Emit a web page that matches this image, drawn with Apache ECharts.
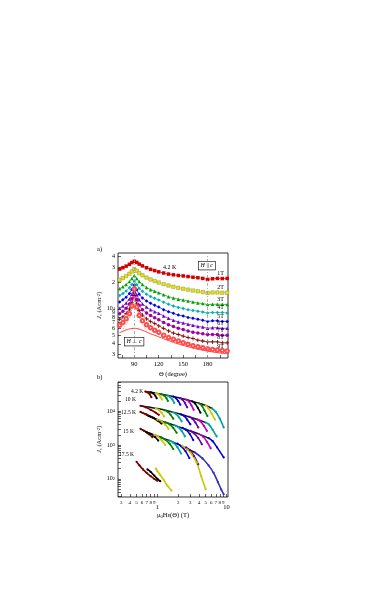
<!DOCTYPE html>
<html lang="en">
<head>
<meta charset="UTF-8">
<title>Jc angular dependence and scaling</title>
<script src="https://cdn.jsdelivr.net/npm/echarts@6.0.0/dist/echarts.min.js"></script>
</head>
<body style="margin:0;background:#fff;">
<div id="main" style="width:382px;height:599px;"></div>
<script>
// ---- panel a: Jc(theta) at 4.2 K for 1T..9T
var theta = [72, 76, 80, 84, 87, 90, 93, 96, 100, 105, 110, 115, 120, 126, 132, 138, 144, 150, 156, 162, 168, 174, 180, 186, 192, 198, 204];
var jc1T = [28500, 29500, 30800, 32300, 33800, 35000, 34000, 32500, 31000, 29500, 28300, 27400, 26500, 25700, 25000, 24500, 24100, 23800, 23400, 23000, 22700, 22300, 21700, 22100, 22300, 22200, 22300];
var jc2T = [21500, 22500, 23700, 25200, 26800, 28500, 27200, 25600, 24200, 22800, 21700, 20800, 20000, 19200, 18500, 17900, 17400, 17000, 16600, 16200, 15900, 15600, 15200, 15400, 15400, 15300, 15300];
var jc3T = [17000, 17900, 19000, 20500, 22200, 24000, 22300, 20500, 19000, 17600, 16600, 15900, 15300, 14500, 13800, 13300, 12900, 12600, 12300, 12000, 11700, 11500, 11200, 11300, 11300, 11300, 11200];
var jc4T = [14200, 15000, 16000, 17400, 19000, 20800, 18900, 17200, 15900, 14700, 13900, 13200, 12600, 11900, 11300, 10800, 10400, 10100, 9800, 9600, 9400, 9200, 9000, 9100, 9100, 9100, 9000];
var jc5T = [12000, 12700, 13600, 15000, 16700, 18700, 16500, 14700, 13300, 12300, 11600, 11000, 10500, 9800, 9300, 8900, 8500, 8300, 8000, 7800, 7600, 7400, 7200, 7300, 7300, 7200, 7200];
var jc6T = [10200, 10800, 11700, 13000, 14700, 16800, 14500, 12700, 11400, 10500, 9800, 9300, 8900, 8300, 7800, 7400, 7100, 6900, 6700, 6500, 6300, 6200, 6000, 6100, 6100, 6000, 6000];
var jc7T = [8800, 9400, 10200, 11400, 13100, 15300, 12800, 11000, 9800, 9000, 8400, 7900, 7500, 7000, 6600, 6300, 6000, 5800, 5600, 5400, 5300, 5200, 5100, 5100, 5100, 5000, 5000];
var jc8T = [7600, 8100, 8900, 10000, 11700, 14300, 11400, 9600, 8500, 7700, 7200, 6800, 6400, 6000, 5600, 5300, 5100, 4900, 4700, 4600, 4400, 4300, 4200, 4200, 4200, 4100, 4100];
var jc9T = [6500, 7000, 7700, 8800, 10800, 17000, 10500, 8400, 7300, 6600, 6100, 5700, 5400, 5000, 4700, 4500, 4300, 4100, 3950, 3800, 3700, 3600, 3500, 3450, 3400, 3350, 3300];
var jcSmooth = [5350, 5550, 5750, 5900, 5970, 6000, 5970, 5880, 5700, 5450, 5200, 5000, 4800, 4570, 4350, 4150, 3980, 3830, 3700, 3580, 3470, 3380, 3300, 3230, 3170, 3120, 3080];
var cuspA = [[74, 5600], [78, 6200], [82, 7200], [85, 8500], [88, 11500], [90, 16000], [92, 11500], [95, 8500], [98, 7200], [102, 6200], [106, 5600]];
var cuspB = [[76, 6800], [80, 7800], [84, 9500], [87, 12000], [90, 17500], [93, 12000], [96, 9500], [100, 7800], [104, 6800]];
var fieldNames = ['1T', '2T', '3T', '4T', '5T', '6T', '7T', '8T', '9T'];
var fieldData = [jc1T, jc2T, jc3T, jc4T, jc5T, jc6T, jc7T, jc8T, jc9T];
var thetaTicks = [75, 90, 105, 120, 135, 150, 165, 180, 195];
var thetaLabels = [90, 120, 150, 180];
var jcTicksA = [3000, 4000, 5000, 6000, 7000, 8000, 9000, 10000, 20000, 30000, 40000];

// ---- panel b: Jc vs mu0 H eps(theta), several temperatures
var env42K = [[0.67, 38000], [1.0, 33500], [1.5, 28500], [2.2, 24000], [3.2, 19500], [4.5, 16000], [6.2, 12000]];
var arcs42K = [
  [[0.67, 38000], [0.72, 36000], [0.78, 31000], [0.82, 26000]],
  [[0.8, 36000], [0.87, 33500], [0.93, 29000], [0.98, 24000]],
  [[0.95, 34000], [1.03, 31500], [1.1, 27000], [1.17, 22000]],
  [[1.15, 31500], [1.25, 29000], [1.35, 24500], [1.42, 20000]],
  [[1.4, 29000], [1.52, 26500], [1.65, 22000], [1.75, 17500]],
  [[1.7, 27000], [1.85, 24500], [2.0, 20000], [2.15, 15500]],
  [[2.1, 24500], [2.3, 22000], [2.5, 17500], [2.7, 13000]],
  [[2.6, 22000], [2.85, 19500], [3.1, 15000], [3.35, 11000]],
  [[3.2, 19500], [3.5, 17000], [3.85, 12500], [4.2, 9000]],
  [[4.0, 17000], [4.4, 14500], [4.8, 10500], [5.3, 7200]],
  [[5.0, 14500], [5.5, 12000], [6.1, 8500], [6.8, 5600]],
  [[6.2, 12000], [7.0, 9500], [8.0, 6000], [9.1, 3300]]
];
var env10K = [[0.57, 14500], [0.8, 13000], [1.0, 12000], [1.4, 10300], [2.0, 8500], [3.0, 6600], [4.0, 5500], [5.0, 4600]];
var arcs10K = [
  [[0.57, 14500], [0.68, 13000], [0.8, 11000], [0.95, 9000], [1.05, 7800]],
  [[0.95, 12000], [1.05, 11000], [1.15, 9000], [1.25, 7000]],
  [[1.25, 10700], [1.4, 9700], [1.55, 7800], [1.7, 6000]],
  [[1.65, 9300], [1.85, 8400], [2.05, 6600], [2.25, 5000]],
  [[2.2, 8000], [2.45, 7200], [2.7, 5600], [3.0, 4100]],
  [[2.9, 6800], [3.2, 6000], [3.55, 4600], [3.9, 3300]],
  [[3.8, 5700], [4.2, 5000], [4.7, 3700], [5.2, 2600]],
  [[5.0, 4600], [5.6, 4000], [6.3, 2800], [7.2, 1800]]
];
var env125K = [[0.57, 9500], [0.75, 7200], [1.0, 5600], [1.4, 4500], [2.0, 3500], [3.0, 2600], [4.0, 2100], [5.5, 1600]];
var arcs125K = [
  [[0.57, 9500], [0.7, 8000], [0.85, 6600], [1.0, 5500], [1.1, 4800]],
  [[0.75, 7200], [0.88, 6300], [1.0, 5300], [1.15, 4300]],
  [[1.0, 5600], [1.15, 5000], [1.3, 4000], [1.45, 3000]],
  [[1.3, 4700], [1.5, 4100], [1.7, 3200], [1.9, 2300]],
  [[1.75, 3900], [2.0, 3400], [2.25, 2600], [2.5, 1800]],
  [[2.3, 3200], [2.6, 2800], [2.95, 2100], [3.3, 1400]],
  [[3.0, 2600], [3.4, 2200], [3.9, 1600], [4.4, 1050]],
  [[4.0, 2100], [4.6, 1750], [5.2, 1250], [5.9, 800]],
  [[5.5, 1600], [6.3, 1300], [7.3, 850], [9.1, 430]]
];
var env15K = [[0.57, 3000], [0.7, 2400], [0.9, 2000], [1.2, 1600], [1.6, 1280], [2.2, 950], [3.0, 700], [3.5, 600]];
var arcs15K = [
  [[0.57, 3000], [0.65, 2600], [0.75, 2100], [0.85, 1700]],
  [[0.7, 2400], [0.8, 2150], [0.92, 1750], [1.03, 1350]],
  [[0.9, 2000], [1.02, 1780], [1.15, 1400], [1.3, 1000]],
  [[1.15, 1650], [1.3, 1450], [1.5, 1100], [1.7, 760]],
  [[1.5, 1350], [1.7, 1170], [1.95, 860], [2.2, 560]],
  [[1.95, 1100], [2.2, 930], [2.55, 660], [2.9, 410]],
  [[2.6, 850], [2.95, 700], [3.4, 470], [3.9, 270]],
  [[2.3, 950], [3.0, 600], [3.7, 300], [4.3, 120], [5.0, 49]],
  [[3.5, 600], [4.5, 400], [5.5, 250], [6.5, 150], [7.5, 80], [8.4, 48], [9.1, 35]]
];
var arcs175K = [
  [[0.5, 320], [0.55, 250], [0.62, 190], [0.7, 150], [0.8, 120], [0.9, 100], [1.0, 88]],
  [[0.72, 190], [0.8, 160], [0.9, 125], [1.0, 100], [1.1, 85]],
  [[0.95, 200], [1.0, 170], [1.1, 130], [1.25, 90], [1.4, 62], [1.6, 45]]
];
var hTicksB = [0.3, 0.4, 0.5, 0.6, 0.7, 0.8, 0.9, 1, 2, 3, 4, 5, 6, 7, 8, 9, 10];
var hMinorLabelsB = [0.3, 0.4, 0.5, 0.6, 0.7, 0.8, 0.9, 2, 3, 4, 5, 6, 7, 8, 9];
var hMajorLabelsB = [1, 10];
var jcTicksB = [30, 40, 50, 60, 70, 80, 90, 100, 200, 300, 400, 500, 600, 700, 800, 900,
  1000, 2000, 3000, 4000, 5000, 6000, 7000, 8000, 9000, 10000, 20000, 30000, 40000, 50000, 60000, 70000];
var jcLabelsB = [100, 1000, 10000];

// ---- styles
var FONT = 'Liberation Serif';
var fieldColors = ['#d00000', '#e6e600', '#00a000', '#00b0b0', '#0000e0', '#7000c8', '#a000a0', '#780000', '#ff4d4d'];
var plusPath = 'path://M0.4,0H0.6V0.4H1V0.6H0.6V1H0.4V0.6H0V0.4H0.4Z';
var fieldSymbols = ['rect', 'rect', 'triangle', 'diamond', 'diamond', 'triangle', 'circle', plusPath, 'emptyCircle'];
var hookColors42 = ['#7a0000', '#000', '#c8c800', '#008000', '#00a0a0', '#0000d0', '#6000b0', '#c000c0', '#000', '#008000', '#c8c800', '#00a0a0'];
var hookColors10 = ['#7a0000', '#c8c800', '#008000', '#00a0a0', '#0000d0', '#6000b0', '#c000c0', '#00a0a0'];
var hookColors125 = ['#7a0000', '#000', '#c8c800', '#008000', '#00a0a0', '#0000d0', '#6000b0', '#c000c0', '#0000d0'];
var hookColors15 = ['#7a0000', '#000', '#c8c800', '#008000', '#00a0a0', '#0000d0', '#6000b0', '#c8c800', '#3030c0'];
var hookColors175 = ['#7a0000', '#000', '#c8c800'];

var lg = Math.log10;
var noLine = {show: false, onZero: false};
var tickStyle = {show: true, inside: true, length: 3, lineStyle: {color: '#000', width: 0.6}};
var supRich = {s: {fontSize: 4.5, fontFamily: FONT, verticalAlign: 'top', lineHeight: 6}};

function sup10(n) {
  var e = Math.round(lg(n));
  return '10{s|' + e + '}';
}

var series = [];

// panel a series
fieldData.forEach(function (arr, i) {
  series.push({
    type: 'line', name: fieldNames[i], xAxisIndex: 0, yAxisIndex: 0,
    data: theta.map(function (t, k) { return [t, arr[k]]; }),
    symbol: fieldSymbols[i], symbolSize: i === 7 ? 4 : 3.5, showSymbol: true,
    lineStyle: {color: fieldColors[i], width: 0.7},
    itemStyle: {color: fieldColors[i], borderColor: i === 1 ? '#777' : fieldColors[i], borderWidth: i === 1 ? 0.4 : 0},
    endLabel: {show: true, formatter: fieldNames[i], color: '#000', fontSize: 6, fontFamily: FONT, distance: 0, offset: [-10, -5]},
    z: 3
  });
});
series.push({
  type: 'line', xAxisIndex: 0, yAxisIndex: 0, smooth: true, showSymbol: false,
  data: theta.map(function (t, k) { return [t, jcSmooth[k]]; }),
  lineStyle: {color: '#ff3030', width: 1}, z: 2,
  markLine: {
    silent: true, symbol: ['none', 'none'], label: {show: false},
    lineStyle: {color: '#999', width: 0.8, type: [3, 2, 1, 2]},
    data: [{xAxis: 90}, {xAxis: 180}]
  }
});
[cuspA, cuspB].forEach(function (c) {
  series.push({
    type: 'line', xAxisIndex: 0, yAxisIndex: 0, showSymbol: false, smooth: 0.3,
    data: c, lineStyle: {color: '#ff7070', width: 0.8, type: [1, 1.5]}, z: 2
  });
});

// panel b series
function addGroup(env, arcs, colors) {
  if (env) {
    series.push({
      type: 'line', xAxisIndex: 1, yAxisIndex: 2, data: env, smooth: 0.3,
      showSymbol: false, lineStyle: {color: '#111', width: 1.5}, z: 2
    });
  }
  arcs.forEach(function (a, i) {
    series.push({
      type: 'line', xAxisIndex: 1, yAxisIndex: 2, data: a, smooth: 0.4,
      symbol: 'circle', symbolSize: 2.2, showSymbol: true,
      lineStyle: {color: colors[i], width: 1.6},
      itemStyle: {color: colors[i]}, z: 3
    });
  });
}
addGroup(env42K, arcs42K, hookColors42);
addGroup(env10K, arcs10K, hookColors10);
addGroup(env125K, arcs125K, hookColors125);
addGroup(env15K, arcs15K, hookColors15);
addGroup(null, arcs175K, hookColors175);

var chart = echarts.init(document.getElementById('main'));
var txt = function (left, top, text, size) {
  return {type: 'text', left: left, top: top, z: 10,
    style: {text: text, fill: '#000', font: (size || 6.5) + 'px "' + FONT + '"'}};
};
var boxTxt = function (left, top, text) {
  return {type: 'text', left: left, top: top, z: 10,
    style: {text: text, fill: '#000', fontSize: 6, fontFamily: FONT,
      backgroundColor: '#fff', borderColor: '#000', borderWidth: 0.6, padding: [1, 2],
      rich: {i: {fontStyle: 'italic', fontSize: 6, fontFamily: FONT}}}};
};
var hLabel = function (v) {
  var n = Math.pow(10, v);
  if (n < 0.95) return String(Math.round(n * 10));
  return String(Math.round(n));
};

chart.setOption({
  animation: false,
  backgroundColor: '#fff',
  textStyle: {fontFamily: FONT},
  grid: [
    {left: 118, top: 253, width: 110, height: 105, show: true, borderColor: '#000', borderWidth: 0.8, backgroundColor: 'transparent', outerBoundsMode: 'none'},
    {left: 118, top: 382, width: 110, height: 115, show: true, borderColor: '#000', borderWidth: 0.8, backgroundColor: 'transparent', outerBoundsMode: 'none'}
  ],
  xAxis: [
    {type: 'value', gridIndex: 0, position: 'bottom', min: 70, max: 205,
      axisLine: noLine, splitLine: {show: false},
      axisTick: Object.assign({customValues: thetaTicks}, tickStyle),
      axisLabel: {customValues: thetaLabels, fontSize: 6.5, fontFamily: FONT, color: '#000', margin: 3},
      name: 'Θ (degree)', nameLocation: 'middle', nameGap: 13,
      nameTextStyle: {fontSize: 6.5, fontFamily: FONT, color: '#000'}},
    {type: 'log', gridIndex: 1, position: 'bottom', min: 0.27, max: 10.5, show: false, axisLine: noLine},
    {type: 'value', gridIndex: 1, position: 'bottom', min: lg(0.27), max: lg(10.5),
      axisLine: noLine, splitLine: {show: false},
      axisTick: Object.assign({customValues: hTicksB.map(lg)}, tickStyle),
      axisLabel: {customValues: hMinorLabelsB.map(lg), fontSize: 5, fontFamily: FONT, color: '#000', margin: 3,
        hideOverlap: false, formatter: hLabel},
      name: 'μ{s|0}Hε(Θ) (T)', nameLocation: 'middle', nameGap: 15,
      nameTextStyle: {fontSize: 6.5, fontFamily: FONT, color: '#000',
        rich: {s: {fontSize: 4.5, fontFamily: FONT, verticalAlign: 'bottom'}}}},
    {type: 'value', gridIndex: 1, position: 'bottom', min: lg(0.27), max: lg(10.5),
      axisLine: noLine, splitLine: {show: false}, axisTick: {show: false},
      axisLabel: {customValues: hMajorLabelsB.map(lg), fontSize: 6.5, fontFamily: FONT, color: '#000', margin: 7,
        hideOverlap: false, formatter: hLabel}}
  ],
  yAxis: [
    {type: 'log', gridIndex: 0, position: 'left', min: 2750, max: 43500, show: false, axisLine: noLine},
    {type: 'value', gridIndex: 0, position: 'left', min: lg(2750), max: lg(43500),
      axisLine: noLine, splitLine: {show: false},
      axisTick: Object.assign({customValues: jcTicksA.map(lg)}, tickStyle),
      axisLabel: {customValues: jcTicksA.map(lg), fontSize: 6, fontFamily: FONT, color: '#000', margin: 3, rich: supRich,
        hideOverlap: false,
        formatter: function (v) {
          var n = Math.round(Math.pow(10, v));
          if (n === 10000) return sup10(n);
          return String(Math.round(n / Math.pow(10, Math.floor(lg(n) + 1e-9))));
        }},
      name: '{i|J}{sub|c} (Acm{s|-2})', nameLocation: 'middle', nameRotate: 90, nameGap: 13,
      nameTextStyle: {fontSize: 6.5, fontFamily: FONT, color: '#000',
        rich: {i: {fontStyle: 'italic', fontSize: 6.5, fontFamily: FONT},
          sub: {fontSize: 4.5, fontFamily: FONT, verticalAlign: 'bottom'},
          s: {fontSize: 4.5, fontFamily: FONT, verticalAlign: 'top'}}}},
    {type: 'log', gridIndex: 1, position: 'left', min: 29, max: 73000, show: false, axisLine: noLine},
    {type: 'value', gridIndex: 1, position: 'left', min: lg(29), max: lg(73000),
      axisLine: noLine, splitLine: {show: false},
      axisTick: Object.assign({customValues: jcTicksB.map(lg)}, tickStyle),
      axisLabel: {customValues: jcLabelsB.map(lg), fontSize: 6, fontFamily: FONT, color: '#000', margin: 3, rich: supRich,
        formatter: function (v) { return sup10(Math.pow(10, v)); }},
      name: '{i|J}{sub|c} (Acm{s|-2})', nameLocation: 'middle', nameRotate: 90, nameGap: 15,
      nameTextStyle: {fontSize: 6.5, fontFamily: FONT, color: '#000',
        rich: {i: {fontStyle: 'italic', fontSize: 6.5, fontFamily: FONT},
          sub: {fontSize: 4.5, fontFamily: FONT, verticalAlign: 'bottom'},
          s: {fontSize: 4.5, fontFamily: FONT, verticalAlign: 'top'}}}}
  ],
  graphic: [
    txt(97, 246, 'a)'),
    txt(97, 374, 'b)'),
    txt(163, 264, '4.2 K', 6),
    boxTxt(198, 261, '{i|H} || {i|c}'),
    boxTxt(124, 337, '{i|H} ⊥ {i|c}'),
    txt(131, 389, '4.2 K', 5.5),
    txt(125, 397, '10 K', 5.5),
    txt(121, 410, '12.5 K', 5.5),
    txt(123, 429, '15 K', 5.5),
    txt(119, 452, '17.5 K', 5.5)
  ],
  series: series
});
</script>
</body>
</html>
